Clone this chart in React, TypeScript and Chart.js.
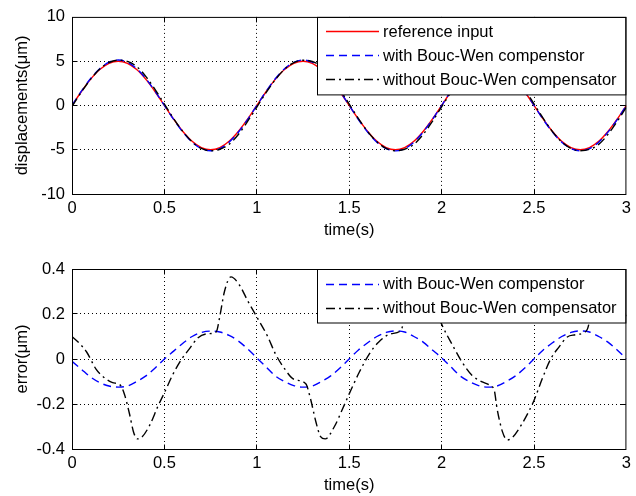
import React, { useEffect, useRef } from 'react';
import { Chart, registerables } from 'chart.js';

Chart.register(...registerables);

const FONT = "'Liberation Sans', Arial, Helvetica, sans-serif";
const FS = 16.5;

// ---------- data ----------
const timeTop = [0, 0.05, 0.1, 0.15, 0.2, 0.25, 0.3, 0.35, 0.4, 0.45, 0.5, 0.55, 0.6, 0.65, 0.7, 0.75, 0.8, 0.85, 0.9, 0.95,
  1, 1.05, 1.1, 1.15, 1.2, 1.25, 1.3, 1.35, 1.4, 1.45, 1.5, 1.55, 1.6, 1.65, 1.7, 1.75, 1.8, 1.85, 1.9, 1.95,
  2, 2.05, 2.1, 2.15, 2.2, 2.25, 2.3, 2.35, 2.4, 2.45, 2.5, 2.55, 2.6, 2.65, 2.7, 2.75, 2.8, 2.85, 2.9, 2.95, 3];

const referenceInput = [0, 1.55, 2.94, 4.05, 4.76, 5, 4.76, 4.05, 2.94, 1.55, 0, -1.55, -2.94, -4.05, -4.76, -5, -4.76, -4.05, -2.94, -1.55,
  0, 1.55, 2.94, 4.05, 4.76, 5, 4.76, 4.05, 2.94, 1.55, 0, -1.55, -2.94, -4.05, -4.76, -5, -4.76, -4.05, -2.94, -1.55,
  0, 1.55, 2.94, 4.05, 4.76, 5, 4.76, 4.05, 2.94, 1.55, 0, -1.55, -2.94, -4.05, -4.76, -5, -4.76, -4.05, -2.94, -1.55, 0];

const withCompDisp = [0.01, 1.59, 3.02, 4.15, 4.88, 5.13, 4.88, 4.15, 3.02, 1.59, 0, -1.58, -3.01, -4.15, -4.87, -5.12, -4.88, -4.15, -3.02, -1.59,
  -0.01, 1.58, 3.01, 4.15, 4.87, 5.13, 4.88, 4.15, 3.01, 1.59, 0, -1.59, -3.01, -4.15, -4.87, -5.13, -4.88, -4.15, -3.01, -1.59,
  -0.01, 1.58, 3.01, 4.15, 4.87, 5.13, 4.88, 4.15, 3.01, 1.59, 0, -1.59, -3.01, -4.15, -4.87, -5.13, -4.88, -4.15, -3.01, -1.59, 0];

const withoutCompDisp = [-0.1, 1.49, 2.94, 4.12, 4.85, 5.11, 4.97, 4.4, 3.26, 1.79, 0.15, -1.48, -2.95, -4.11, -4.86, -5.12, -4.95, -4.4, -3.28, -1.81,
  -0.19, 1.44, 2.91, 4.09, 4.84, 5.11, 4.96, 4.4, 3.27, 1.79, 0.16, -1.48, -2.95, -4.11, -4.86, -5.12, -4.95, -4.4, -3.28, -1.81,
  -0.16, 1.47, 2.94, 4.1, 4.85, 5.11, 4.97, 4.4, 3.27, 1.81, 0.18, -1.47, -2.95, -4.12, -4.86, -5.11, -4.96, -4.4, -3.27, -1.81, -0.19];

const withCompError = [-0.01, -0.045, -0.08, -0.105, -0.12, -0.125, -0.12, -0.1, -0.075, -0.04, 0, 0.035, 0.07, 0.1, 0.118, 0.124, 0.12, 0.105, 0.08, 0.045,
  0.005, -0.035, -0.075, -0.1, -0.118, -0.125, -0.12, -0.1, -0.075, -0.04, 0, 0.04, 0.072, 0.1, 0.118, 0.125, 0.12, 0.1, 0.075, 0.04,
  0.005, -0.035, -0.075, -0.1, -0.118, -0.125, -0.12, -0.1, -0.075, -0.04, 0, 0.04, 0.072, 0.1, 0.118, 0.125, 0.12, 0.1, 0.075, 0.04, 0];

const timeWithoutErr = [0, 0.04, 0.08, 0.13, 0.17, 0.22, 0.26, 0.285, 0.31, 0.335, 0.355, 0.375, 0.42, 0.465, 0.5, 0.545, 0.59, 0.635, 0.68, 0.73, 0.78, 0.8, 0.825, 0.86, 0.905, 0.95,
  1, 1.06, 1.1, 1.15, 1.2, 1.265, 1.29, 1.32, 1.345, 1.37, 1.42, 1.465, 1.5, 1.555, 1.61, 1.66, 1.725, 1.78, 1.8, 1.825, 1.86, 1.905, 1.95,
  2, 2.06, 2.11, 2.165, 2.22, 2.255, 2.285, 2.3, 2.33, 2.355, 2.385, 2.43, 2.475, 2.5, 2.545, 2.59, 2.635, 2.68, 2.725, 2.77, 2.79, 2.82, 2.86, 2.9, 2.95, 3];

const withoutCompError = [0.1, 0.07, 0.03, -0.045, -0.08, -0.105, -0.115, -0.16, -0.24, -0.33, -0.355, -0.35, -0.295, -0.21, -0.15, -0.07, -0.005, 0.045, 0.093, 0.112, 0.12, 0.19, 0.3, 0.365, 0.33, 0.26,
  0.187, 0.098, 0.024, -0.043, -0.09, -0.11, -0.175, -0.28, -0.345, -0.355, -0.3, -0.22, -0.155, -0.058, 0.024, 0.076, 0.112, 0.127, 0.19, 0.3, 0.36, 0.33, 0.26,
  0.155, 0.06, -0.013, -0.073, -0.102, -0.114, -0.14, -0.22, -0.325, -0.36, -0.347, -0.295, -0.228, -0.184, -0.087, 0, 0.053, 0.098, 0.108, 0.117, 0.135, 0.25, 0.36, 0.33, 0.26, 0.19];

const xTickLabels = ['0', '0.5', '1', '1.5', '2', '2.5', '3'];
const yTopTickLabels = ['-10', '-5', '0', '5', '10'];
const yBottomTickLabels = ['-0.4', '-0.2', '0', '0.2', '0.4'];

const labelReference = 'reference input';
const labelWith = 'with Bouc-Wen compenstor';
const labelWithout = 'without Bouc-Wen compensator';

const RED = 'rgb(255,0,0)';
const BLUE = 'rgb(0,0,255)';
const BLACK = 'rgb(0,0,0)';
const DASH = [8, 5];
const DASHDOT = [9, 4, 2, 4];
const LINE_W = 1.4;

// ---------- helpers ----------
const pts = (xs: number[], ys: number[]) => xs.map((x, i) => ({ x, y: ys[i] }));

const gridColor = (c: any) =>
  c.tick && (Math.abs(c.tick.value - c.scale.min) < 1e-9 || Math.abs(c.tick.value - c.scale.max) < 1e-9)
    ? 'rgba(0,0,0,0)'
    : '#000';

function xAxis() {
  return {
    type: 'linear',
    min: 0,
    max: 3,
    ticks: {
      stepSize: 0.5,
      autoSkip: false,
      maxRotation: 0,
      padding: 5,
      color: '#000',
      font: { family: FONT, size: FS },
      callback: (_v: any, i: number) => xTickLabels[i],
    },
    grid: { color: gridColor, lineWidth: 1, drawTicks: false },
    border: { display: false, dash: [1, 3] },
    title: { display: true, text: 'time(s)', color: '#000', font: { family: FONT, size: FS }, padding: { top: 0, bottom: 0 } },
    afterFit: (s: any) => { s.height = 46; },
  };
}

function yAxis(min: number, max: number, step: number, labels: string[], title: string) {
  return {
    type: 'linear',
    min,
    max,
    ticks: {
      stepSize: step,
      autoSkip: false,
      padding: 7,
      color: '#000',
      font: { family: FONT, size: FS },
      callback: (_v: any, i: number) => labels[i],
    },
    grid: { color: gridColor, lineWidth: 1, drawTicks: false },
    border: { display: false, dash: [1, 3] },
    title: { display: true, text: title, color: '#000', font: { family: FONT, size: FS }, padding: { top: 13, bottom: 0 } },
    afterFit: (s: any) => { s.width = 72; },
  };
}

type LegendItem = { label: string; color: string; dash: number[] };

function framePlugin(items: LegendItem[], boxLeft: number) {
  return {
    id: 'matlabFrame',
    afterDatasetsDraw(chart: any) {
      const ctx: CanvasRenderingContext2D = chart.ctx;
      const a = chart.chartArea;
      const xs = chart.scales.x;
      const ys = chart.scales.y;
      const L = a.left + 0.5, R = a.right - 0.5, T = a.top + 0.5, B = a.bottom + 0.5;
      const TL = 5;

      // inward tick marks
      ctx.save();
      ctx.setLineDash([]);
      ctx.strokeStyle = '#000';
      ctx.lineWidth = 1;
      ctx.beginPath();
      xs.ticks.forEach((t: any, i: number) => {
        if (i === 0 || i === xs.ticks.length - 1) return;
        const p = Math.round(xs.getPixelForValue(t.value) - 0.5) + 0.5;
        ctx.moveTo(p, B); ctx.lineTo(p, B - TL);
        ctx.moveTo(p, T); ctx.lineTo(p, T + TL);
      });
      ys.ticks.forEach((t: any, i: number) => {
        if (i === 0 || i === ys.ticks.length - 1) return;
        const p = Math.round(ys.getPixelForValue(t.value) - 0.5) + 0.5;
        ctx.moveTo(L, p); ctx.lineTo(L + TL, p);
        ctx.moveTo(R, p); ctx.lineTo(R - TL, p);
      });
      ctx.stroke();
      ctx.restore();

      // legend box
      const rowH = 24;
      const first = 15.5;
      const lx = boxLeft + 0.5;
      const h = first + (items.length - 1) * rowH + 14;
      ctx.save();
      ctx.setLineDash([]);
      ctx.fillStyle = '#ffffff';
      ctx.fillRect(lx, T, R - lx, h);
      ctx.strokeStyle = '#000000';
      ctx.lineWidth = 1;
      ctx.strokeRect(lx, T, R - lx, h);
      ctx.restore();

      items.forEach((it, i) => {
        const y = a.top + first + i * rowH;
        const ly = Math.round(y) - 0.5;
        ctx.save();
        ctx.strokeStyle = it.color;
        ctx.lineWidth = LINE_W;
        ctx.setLineDash(it.dash);
        ctx.beginPath();
        ctx.moveTo(boxLeft + 9, ly);
        ctx.lineTo(boxLeft + 62, ly);
        ctx.stroke();
        ctx.restore();

        ctx.save();
        ctx.fillStyle = '#000000';
        ctx.font = `${FS}px ${FONT}`;
        ctx.textBaseline = 'middle';
        ctx.textAlign = 'left';
        ctx.fillText(it.label, boxLeft + 66, y);
        ctx.restore();
      });

      // axes box
      ctx.save();
      ctx.strokeStyle = '#000000';
      ctx.lineWidth = 1;
      ctx.setLineDash([]);
      ctx.strokeRect(L, T, R - L, B - T);
      ctx.restore();
    },
  };
}

const lineDs = (label: string, data: any[], color: string, dash: number[], order: number) => ({
  label,
  data,
  borderColor: color,
  backgroundColor: color,
  borderDash: dash,
  borderWidth: LINE_W,
  pointRadius: 0,
  fill: false,
  cubicInterpolationMode: 'monotone',
  order,
});

function topConfig() {
  return {
    type: 'line',
    data: {
      datasets: [
        lineDs(labelReference, pts(timeTop, referenceInput), RED, [], 3),
        lineDs(labelWith, pts(timeTop, withCompDisp), BLUE, DASH, 2),
        lineDs(labelWithout, pts(timeTop, withoutCompDisp), BLACK, DASHDOT, 1),
      ],
    },
    options: {
      responsive: false,
      animation: false,
      events: [],
      layout: { padding: { left: 0, right: 8, top: 14, bottom: 8 } },
      plugins: { legend: { display: false }, tooltip: { enabled: false } },
      scales: {
        x: xAxis(),
        y: yAxis(-10, 10, 5, yTopTickLabels, 'displacements(\u03bcm)'),
      },
    },
    plugins: [framePlugin([
      { label: labelReference, color: RED, dash: [] },
      { label: labelWith, color: BLUE, dash: DASH },
      { label: labelWithout, color: BLACK, dash: DASHDOT },
    ], 317)],
  };
}

function bottomConfig() {
  return {
    type: 'line',
    data: {
      datasets: [
        lineDs(labelWith, pts(timeTop, withCompError), BLUE, DASH, 2),
        lineDs(labelWithout, pts(timeWithoutErr, withoutCompError), BLACK, DASHDOT, 1),
      ],
    },
    options: {
      responsive: false,
      animation: false,
      events: [],
      layout: { padding: { left: 0, right: 8, top: 21, bottom: 1 } },
      plugins: { legend: { display: false }, tooltip: { enabled: false } },
      scales: {
        x: xAxis(),
        y: yAxis(-0.4, 0.4, 0.2, yBottomTickLabels, 'error(\u03bcm)'),
      },
    },
    plugins: [framePlugin([
      { label: labelWith, color: BLUE, dash: DASH },
      { label: labelWithout, color: BLACK, dash: DASHDOT },
    ], 317)],
  };
}

function ChartPanel({ build }: { build: () => any }) {
  const ref = useRef<HTMLCanvasElement>(null);
  useEffect(() => {
    const chart = new Chart(ref.current as HTMLCanvasElement, build());
    return () => chart.destroy();
  }, []);
  return <canvas ref={ref} width={636} height={248} style={{ display: 'block', width: 636, height: 248 }} />;
}

export default function App() {
  return (
    <div style={{ position: 'absolute', left: 0, top: 0, width: 636, height: 496, background: '#fff' }}>
      <ChartPanel build={topConfig} />
      <ChartPanel build={bottomConfig} />
    </div>
  );
}
